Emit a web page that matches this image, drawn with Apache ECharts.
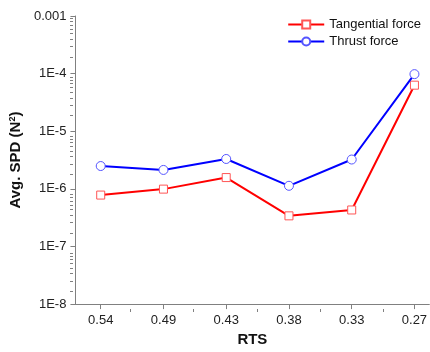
<!DOCTYPE html>
<html>
<head>
<meta charset="utf-8">
<script src="https://cdn.jsdelivr.net/npm/echarts@6/dist/echarts.min.js"></script>
<style>
html,body{margin:0;padding:0;background:#fff;}
#chart{width:430px;height:352px;}
</style>
</head>
<body>
<div id="chart"></div>
<script>
var categories = ['0.54', '0.49', '0.43', '0.38', '0.33', '0.27'];
var tangential = [7.8e-7, 9.9e-7, 1.57e-6, 3.4e-7, 4.3e-7, 6.3e-5];
var thrust = [2.49e-6, 2.13e-6, 3.3e-6, 1.13e-6, 3.23e-6, 9.8e-5];
var yTickLabels = ['1E-8', '1E-7', '1E-6', '1E-5', '1E-4', '0.001'];
var xMajor = [1, 2, 3, 4, 5, 6];
var xMinor = [1.5, 2.5, 3.5, 4.5, 5.5];
var yMinor = [];
for (var d = -8; d < -3; d++) {
  for (var k = 2; k <= 9; k++) yMinor.push(Number((k * Math.pow(10, d)).toPrecision(3)));
}

function pairs(arr) { return arr.map(function (v, i) { return [i + 1, v]; }); }

var FONT = '"Liberation Sans", Arial, sans-serif';
var AXIS_COLOR = '#808080';
var X_MIN = 0.597, X_MAX = 6.237;
var gridRect = {left: 73, right: 0, top: 16, bottom: 43, containLabel: false};

var chart = echarts.init(document.getElementById('chart'), null, {renderer: 'canvas'});
chart.setOption({
  backgroundColor: '#fff',
  animation: false,
  textStyle: {fontFamily: FONT},
  grid: [Object.assign({}, gridRect), Object.assign({}, gridRect)],
  legend: {
    orient: 'vertical',
    right: 4,
    top: 13,
    itemWidth: 36,
    itemHeight: 10,
    itemGap: 4,
    textStyle: {fontFamily: FONT, fontSize: 13, color: '#111'},
    data: ['Tangential force', 'Thrust force']
  },
  xAxis: [{
    gridIndex: 0,
    type: 'value',
    min: X_MIN,
    max: X_MAX,
    name: 'RTS',
    nameLocation: 'middle',
    nameGap: 26,
    nameTextStyle: {fontFamily: FONT, fontSize: 15, fontWeight: 'bold', color: '#111'},
    axisLine: {show: true, onZero: false, lineStyle: {color: AXIS_COLOR, width: 1}},
    axisTick: {show: true, length: 5, customValues: xMajor, lineStyle: {color: AXIS_COLOR}},
    axisLabel: {
      customValues: xMajor,
      margin: 10,
      fontFamily: FONT, fontSize: 13, color: '#222',
      formatter: function (v) { return categories[Math.round(v) - 1] || ''; }
    },
    splitLine: {show: false}
  }, {
    gridIndex: 1,
    type: 'value',
    min: X_MIN,
    max: X_MAX,
    axisLine: {show: false, onZero: false},
    axisTick: {show: true, length: 3, customValues: xMinor, lineStyle: {color: AXIS_COLOR}},
    axisLabel: {show: false},
    splitLine: {show: false}
  }],
  yAxis: [{
    gridIndex: 0,
    type: 'log',
    logBase: 10,
    min: 1e-8,
    max: 1e-3,
    name: 'Avg. SPD (N{sup|2})',
    nameLocation: 'middle',
    nameGap: 45,
    nameRotate: 90,
    nameTextStyle: {
      fontFamily: FONT, fontSize: 15, fontWeight: 'bold', color: '#111',
      rich: {sup: {fontFamily: FONT, fontSize: 9, fontWeight: 'bold', color: '#111', verticalAlign: 'top', padding: [0, 0, 6, 0]}}
    },
    axisLine: {show: true, lineStyle: {color: AXIS_COLOR, width: 1}},
    axisTick: {show: true, length: 5, lineStyle: {color: AXIS_COLOR}},
    axisLabel: {
      margin: 9,
      fontFamily: FONT, fontSize: 13, color: '#222',
      formatter: function (v) { return yTickLabels[Math.round(Math.log10(v)) + 8]; }
    },
    splitLine: {show: false}
  }, {
    gridIndex: 1,
    type: 'log',
    logBase: 10,
    min: 1e-8,
    max: 1e-3,
    axisLine: {show: false},
    axisTick: {show: true, length: 3, customValues: yMinor, lineStyle: {color: AXIS_COLOR}},
    axisLabel: {show: false},
    splitLine: {show: false}
  }],
  series: [{
    name: 'Tangential force',
    type: 'line',
    xAxisIndex: 0,
    yAxisIndex: 0,
    data: pairs(tangential),
    symbol: 'rect',
    symbolSize: 8,
    lineStyle: {color: '#ff0000', width: 2},
    itemStyle: {color: '#ffffff', borderColor: '#ff5555', borderWidth: 1},
    z: 2
  }, {
    name: 'Thrust force',
    type: 'line',
    xAxisIndex: 0,
    yAxisIndex: 0,
    data: pairs(thrust),
    symbol: 'circle',
    symbolSize: 9,
    lineStyle: {color: '#0000ff', width: 2},
    itemStyle: {color: '#ffffff', borderColor: '#5555ff', borderWidth: 1},
    z: 3
  }]
});
</script>
</body>
</html>
